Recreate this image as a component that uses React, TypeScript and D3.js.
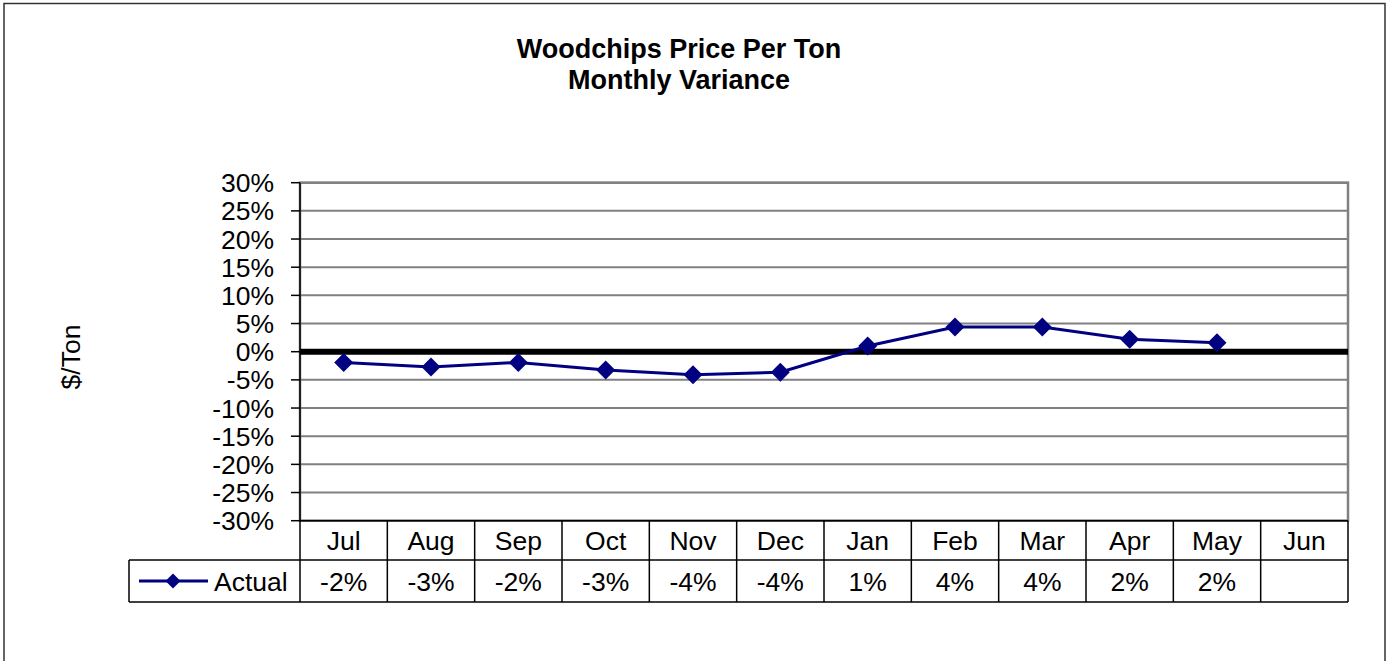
import * as d3 from "d3";

// chart data
const months = ["Jul", "Aug", "Sep", "Oct", "Nov", "Dec", "Jan", "Feb", "Mar", "Apr", "May", "Jun"];
const actual: (number | null)[] = [-0.019, -0.027, -0.019, -0.0325, -0.041, -0.0365, 0.01, 0.044, 0.044, 0.022, 0.016, null];
const yTicks = [-0.3, -0.25, -0.2, -0.15, -0.1, -0.05, 0, 0.05, 0.1, 0.15, 0.2, 0.25, 0.3];
const seriesName = "Actual";

const W = 1390, H = 661;
const FONT = "'Liberation Sans', Arial, sans-serif";
const NAVY = "#000080";

// plain hyphen for negatives, like the spreadsheet
const locale = d3.formatLocale({ decimal: ".", thousands: ",", grouping: [3], currency: ["$", ""], minus: "-" });
const pct = locale.format(".0%");

export default function App() {
  const margin = { left: 300, right: 1348, top: 182.7, bottom: 520.7 };
  const row1 = 560, row2 = 602, legendLeft = 129;

  const x = d3.scaleBand().domain(months).range([margin.left, margin.right]).padding(0);
  const y = d3.scaleLinear().domain([-0.3, 0.3]).range([margin.bottom, margin.top]);
  const cx = (m: string) => (x(m) as number) + x.bandwidth() / 2;

  const pts = months.map((m, i) => ({ m, v: actual[i] })).filter(d => d.v !== null) as { m: string; v: number }[];
  const line = d3.line<{ m: string; v: number }>().x(d => cx(d.m)).y(d => y(d.v));
  const diamond = (px: number, py: number, r = 9.5) =>
    `M${px},${py - r}L${px + r},${py}L${px},${py + r}L${px - r},${py}Z`;

  return (
    <svg width={W} height={H} style={{ position: "absolute", left: 0, top: 0, background: "#fff" }} fontFamily={FONT}>
      {/* outer frame */}
      <rect x={4} y={3.5} width={1381} height={680} fill="#fff" stroke="#333" strokeWidth={1.5} />

      {/* title */}
      <text x={679} y={58} textAnchor="middle" fontSize={27} fontWeight="bold">Woodchips Price Per Ton</text>
      <text x={679} y={89} textAnchor="middle" fontSize={27} fontWeight="bold">Monthly Variance</text>

      {/* gridlines */}
      {yTicks.map(t => (
        <line key={t} x1={margin.left} x2={margin.right} y1={y(t)} y2={y(t)} stroke="#808080" strokeWidth={2} />
      ))}
      <rect x={margin.left} y={margin.top} width={margin.right - margin.left} height={margin.bottom - margin.top}
        fill="none" stroke="#808080" strokeWidth={2.5} />

      {/* zero line */}
      <line x1={margin.left} x2={margin.right} y1={y(0)} y2={y(0)} stroke="#000" strokeWidth={6} />

      {/* y axis */}
      <line x1={margin.left} x2={margin.left} y1={margin.top} y2={row2} stroke="#000" strokeWidth={1.5} />
      {yTicks.map(t => (
        <g key={"t" + t}>
          <line x1={margin.left - 9} x2={margin.left} y1={y(t)} y2={y(t)} stroke="#000" strokeWidth={1.5} />
          <text x={274} y={y(t)} dy="0.36em" textAnchor="end" fontSize={26.5}>{pct(t)}</text>
        </g>
      ))}
      <text transform={`translate(80,357) rotate(-90)`} textAnchor="middle" fontSize={26.5}>$/Ton</text>

      {/* series */}
      <path d={line(pts) || ""} fill="none" stroke={NAVY} strokeWidth={3} />
      {pts.map(d => (
        <path key={d.m} d={diamond(cx(d.m), y(d.v))} fill={NAVY} />
      ))}

      {/* data table */}
      <line x1={margin.left} x2={margin.right} y1={margin.bottom} y2={margin.bottom} stroke="#000" strokeWidth={1.5} />
      <line x1={legendLeft} x2={margin.right} y1={row1} y2={row1} stroke="#000" strokeWidth={1.5} />
      <line x1={legendLeft} x2={margin.right} y1={row2} y2={row2} stroke="#000" strokeWidth={1.5} />
      <line x1={legendLeft} x2={legendLeft} y1={row1} y2={row2} stroke="#000" strokeWidth={1.5} />
      {months.map(m => (
        <line key={"v" + m} x1={(x(m) as number) + x.bandwidth()} x2={(x(m) as number) + x.bandwidth()}
          y1={margin.bottom} y2={row2} stroke="#000" strokeWidth={1.5} />
      ))}
      {months.map((m, i) => (
        <g key={"c" + m}>
          <text x={cx(m)} y={(margin.bottom + row1) / 2} dy="0.36em" textAnchor="middle" fontSize={26.5}>{m}</text>
          {actual[i] !== null && (
            <text x={cx(m)} y={(row1 + row2) / 2} dy="0.36em" textAnchor="middle" fontSize={26.5}>{pct(actual[i] as number)}</text>
          )}
        </g>
      ))}

      {/* legend key */}
      <line x1={139} x2={208} y1={(row1 + row2) / 2} y2={(row1 + row2) / 2} stroke={NAVY} strokeWidth={3} />
      <path d={diamond(173, (row1 + row2) / 2, 7.5)} fill={NAVY} />
      <text x={214} y={(row1 + row2) / 2} dy="0.36em" fontSize={26.5}>{seriesName}</text>
    </svg>
  );
}
